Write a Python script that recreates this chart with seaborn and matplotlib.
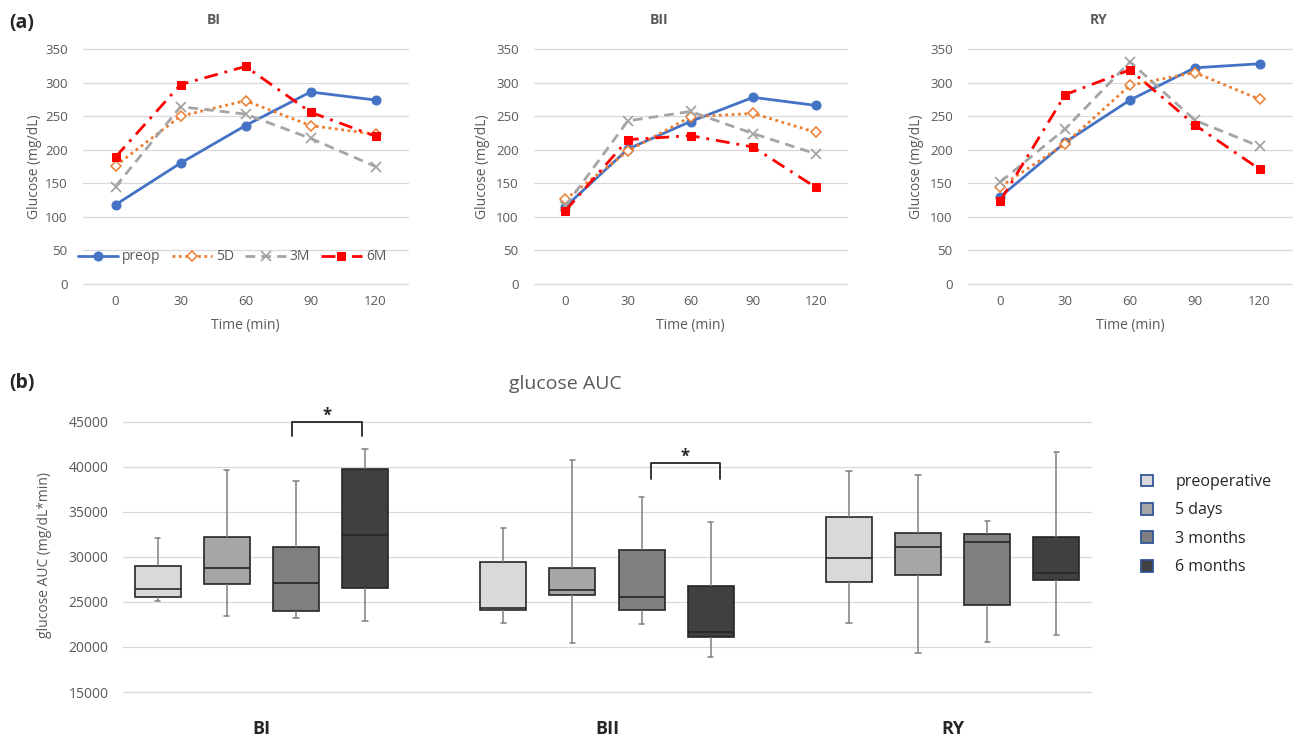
import numpy as np
import pandas as pd
import matplotlib
matplotlib.use("Agg")
import matplotlib.pyplot as plt
from matplotlib.patches import Patch
import seaborn as sns

# ---------------------------------------------
# (a) glucose curves (mg/dL) over the OGTT
# ---------------------------------------------
times = [0, 30, 60, 90, 120]
series = ["preop", "5D", "3M", "6M"]

bi_preop = [118, 180, 236, 286, 274]
bi_5d = [176, 250, 273, 236, 223]
bi_3m = [145, 264, 253, 217, 175]
bi_6m = [189, 297, 324, 256, 220]

bii_preop = [115, 201, 242, 278, 266]
bii_5d = [126, 198, 249, 254, 226]
bii_3m = [116, 243, 257, 224, 194]
bii_6m = [109, 215, 221, 204, 144]

ry_preop = [130, 211, 274, 322, 328]
ry_5d = [145, 209, 296, 315, 275]
ry_3m = [152, 231, 331, 244, 205]
ry_6m = [124, 282, 319, 237, 171]

# ---------------------------------------------
# (b) glucose AUC box summaries: min, Q1, median, Q3, max
# ---------------------------------------------
groups = ["BI", "BII", "RY"]
periods = ["preoperative", "5 days", "3 months", "6 months"]

auc_bi = [[25100, 25500, 26400, 29000, 32100],
          [23450, 27000, 28750, 32200, 39600],
          [23200, 24000, 27080, 31050, 38380],
          [22900, 26490, 32440, 39790, 41950]]
auc_bii = [[22650, 24130, 24330, 29480, 33250],
           [20470, 25750, 26300, 28750, 40720],
           [22540, 24090, 25570, 30760, 36600],
           [18840, 21100, 21650, 26750, 33880]]
auc_ry = [[22670, 27190, 29850, 34450, 39480],
          [19320, 27950, 31090, 32620, 39110],
          [20500, 24640, 31660, 32550, 33990],
          [21280, 27380, 28190, 32200, 41620]]

# significance brackets: x from, x to, top, leg bottom
brackets = [(0.09, 0.29, 45000, 43400),
            (1.126, 1.326, 40420, 38640)]

# ---------------------------------------------
sns.set_theme(style="white")
plt.rcParams["font.family"] = ["Open Sans", "DejaVu Sans"]

W, H = 1293, 738
fig = plt.figure(figsize=(W / 100, H / 100), dpi=100)
GRAY_TXT = "#595959"


def px_axes(l, r, t, b):
    return fig.add_axes([l / W, 1 - b / H, (r - l) / W, (b - t) / H])


line_styles = {
    "preop": dict(color="#4472C4", marker="o", linestyle="-", markersize=6.5,
                  markerfacecolor="#4472C4", markeredgecolor="#4472C4"),
    "5D": dict(color="#ED7D31", marker="D", linestyle=(0, (1, 1.3)), markersize=5,
               markerfacecolor="white", markeredgecolor="#ED7D31", markeredgewidth=1.1),
    "3M": dict(color="#A5A5A5", marker="x", linestyle=(0, (3.5, 2.2)), markersize=6.5,
               markeredgecolor="#A5A5A5", markeredgewidth=1.3),
    "6M": dict(color="#FF0000", marker="s", linestyle=(0, (5, 2.5, 1, 2.5)), markersize=6,
               markerfacecolor="#FF0000", markeredgecolor="#FF0000"),
}

panels = [
    ("BI", [bi_preop, bi_5d, bi_3m, bi_6m], (83, 408), 214, 35),
    ("BII", [bii_preop, bii_5d, bii_3m, bii_6m], (534, 847), 659, 483),
    ("RY", [ry_preop, ry_5d, ry_3m, ry_6m], (968, 1292), 1099, 917),
]

for i, (name, vals, (l, r), tx, ylx) in enumerate(panels):
    ax = px_axes(l, r, 49, 284)
    for s, v in zip(series, vals):
        sns.lineplot(x=times, y=v, ax=ax, label=s, linewidth=2, **line_styles[s])
    ax.set_xlim(-15, 135)
    ax.set_ylim(0, 350)
    ax.set_xticks(times)
    ax.set_yticks(range(0, 351, 50))
    ax.grid(axis="y", color="#D9D9D9", linewidth=0.9)
    ax.grid(axis="x", visible=False)
    ax.set_axisbelow(True)
    for gl in ax.get_ygridlines():
        gl.set_clip_on(False)
    sns.despine(ax=ax, left=True, bottom=True)
    ax.tick_params(axis="both", length=0, labelsize=9.5, labelcolor=GRAY_TXT)
    ax.tick_params(axis="y", pad=11)
    ax.tick_params(axis="x", pad=8)
    ax.set_xlabel("Time (min)", fontsize=10, color=GRAY_TXT, va="center")
    ax.xaxis.set_label_coords(0.5, -(325 - 284) / 235)
    ax.set_ylabel("Glucose (mg/dL)", fontsize=10, color=GRAY_TXT, va="center")
    ax.yaxis.set_label_coords(-(l - ylx) / (r - l), 0.5)
    fig.text(tx / W, 1 - 20 / H, name, ha="center", va="center",
             fontsize=10, fontweight="bold", color=GRAY_TXT)
    if i == 0:
        ax.legend(loc="center", bbox_to_anchor=(0.458, 0.115), ncol=4, frameon=False,
                  fontsize=10, handlelength=2.9, handletextpad=0.3, columnspacing=0.8,
                  labelcolor=GRAY_TXT)
    else:
        leg = ax.get_legend()
        if leg is not None:
            leg.remove()

fig.text(9 / W, 1 - 23 / H, "(a)", ha="left", va="center", fontsize=14, fontweight="bold")
fig.text(9 / W, 1 - 383 / H, "(b)", ha="left", va="center", fontsize=14, fontweight="bold")

# ---------------------------------------------
# (b) boxplot
# ---------------------------------------------
rows = []
for g, boxes in zip(groups, [auc_bi, auc_bii, auc_ry]):
    for p, five in zip(periods, boxes):
        for v in five:
            rows.append({"group": g, "period": p, "auc": v})
auc_df = pd.DataFrame(rows)

box_colors = ["#D9D9D9", "#A6A6A6", "#7F7F7F", "#404040"]

axb = px_axes(123, 1091, 421.7, 692)
sns.boxplot(data=auc_df, x="group", y="auc", hue="period", order=groups, hue_order=periods,
            palette=box_colors, saturation=1, width=0.8, gap=0.335, whis=(0, 100),
            linecolor="#262626", linewidth=1.2,
            whiskerprops=dict(color="#7F7F7F", linewidth=1.1),
            capprops=dict(color="#7F7F7F", linewidth=1.1),
            capwidths=0.016,
            legend=False, ax=axb)
axb.set_xlim(-0.4, 2.4)
axb.set_ylim(15000, 45000)
axb.set_yticks(range(15000, 45001, 5000))
axb.grid(axis="y", color="#D9D9D9", linewidth=0.9)
axb.grid(axis="x", visible=False)
axb.set_axisbelow(True)
for gl in axb.get_ygridlines():
    gl.set_clip_on(False)
sns.despine(ax=axb, left=True, bottom=True)
axb.tick_params(axis="both", length=0)
axb.tick_params(axis="y", labelsize=10, labelcolor=GRAY_TXT, pad=10.5)
axb.tick_params(axis="x", labelsize=13, pad=20)
for t in axb.get_xticklabels():
    t.set_fontweight("bold")
axb.set_xlabel("")
axb.set_ylabel("glucose AUC (mg/dL*min)", fontsize=10, color=GRAY_TXT, va="center")
axb.yaxis.set_label_coords(-(123 - 45) / 968, 0.507)

for x0, x1, yt, yl in brackets:
    axb.plot([x0, x0, x1, x1], [yl, yt, yt, yl], color="#262626", linewidth=1.3, clip_on=False)
    axb.text((x0 + x1) / 2, yt + 700, "*", ha="center", va="center",
             fontsize=12, fontweight="bold", color="#262626")

fig.text(565 / W, 1 - 384 / H, "glucose AUC", ha="center", va="center",
         fontsize=14, color=GRAY_TXT)

handles = [Patch(facecolor=c, edgecolor="#2F5597", linewidth=1.3) for c in box_colors]
fig.legend(handles, periods, loc="upper left", bbox_to_anchor=(1141 / W, 1 - 474 / H),
           frameon=False, fontsize=11.5, handlelength=0.75, handleheight=0.75,
           handletextpad=1.4, labelspacing=0.78, borderpad=0, borderaxespad=0,
           labelcolor="#262626")

fig.savefig("out.png", dpi=100)
